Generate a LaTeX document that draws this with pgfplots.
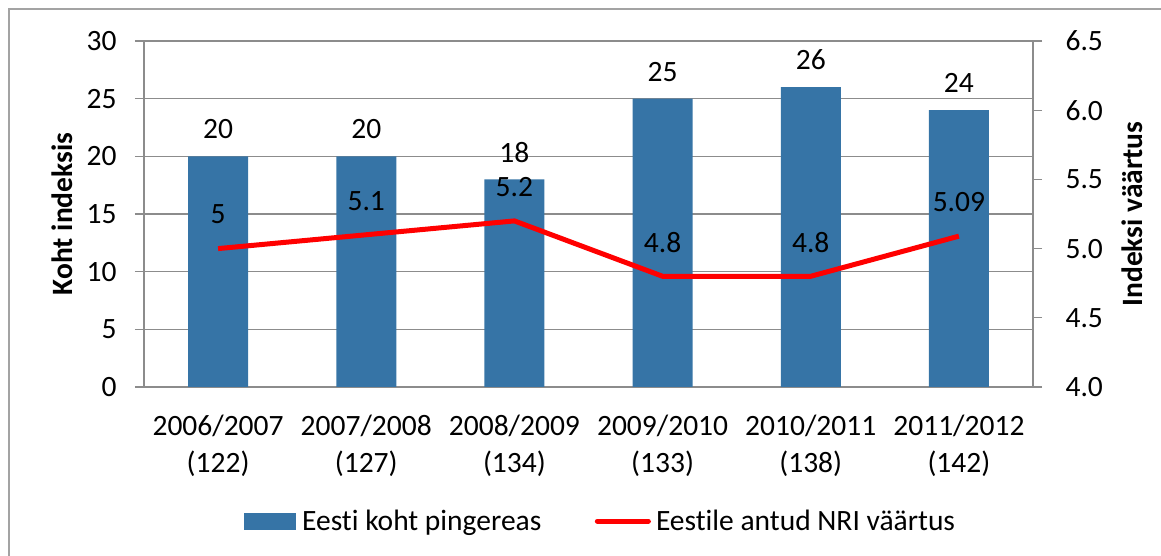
\documentclass[border=0pt]{standalone}
\usepackage{pgfplots}
\pgfplotsset{compat=1.18}
\usepackage{fontspec}
\setmainfont[Ligatures=NoCommon]{Carlito}
\definecolor{barblue}{HTML}{3674A6}
\definecolor{gridgray}{HTML}{8C8C8C}
\definecolor{linered}{HTML}{FF0000}
\newcommand{\fs}{\fontsize{29.5}{37}\selectfont}
\begin{document}
\begin{tikzpicture}[x=1pt,y=1pt]
\useasboundingbox (-144,-169) rectangle (1017,387);
\draw[gridgray!80, line width=1.3pt] (-135,-200) -- (-135,378) -- (1040,378);
\begin{axis}[
  at={(0,0)}, anchor=south west, scale only axis,
  width=889pt, height=346pt,
  xmin=-0.5, xmax=5.5, ymin=0, ymax=30,
  ytick={0,5,...,30}, ytick pos=left,
  xtick={0,...,5},
  xticklabels={{2006/2007\\(122)},{2007/2008\\(127)},{2008/2009\\(134)},{2009/2010\\(133)},{2010/2011\\(138)},{2011/2012\\(142)}},
  xtick style={draw=none},
  minor xtick={-0.5,0.5,...,5.5},
  minor x tick style={gridgray, line width=1.3pt},
  tick align=outside, major tick length=9pt, minor tick length=9pt,
  ytick style={gridgray, line width=1.3pt},
  ymajorgrids, grid style={gridgray, line width=1.3pt},
  axis line style={gridgray, line width=1.3pt},
  tick label style={font=\fs},
  xticklabel style={align=center, yshift=-15pt},
  yticklabel style={xshift=-15pt},
  /pgf/number format/assume math mode=true,
  every axis y label/.style={at={(axis description cs:-0.0922,0.5)}, anchor=center, rotate=90},
  ylabel={\fs\bfseries Koht indeksis},
  legend style={at={(axis description cs:0.1125,-0.3873)}, anchor=west, draw=none, fill=none,
    legend columns=2, font=\fs, inner sep=0pt, nodes={inner sep=0pt},
    /tikz/every odd column/.append style={column sep=3pt},
    /tikz/every even column/.append style={column sep=53.5pt}},
  legend cell align=left,
]
\addplot[ybar, bar width=60pt, fill=barblue, draw=none,
  nodes near coords, nodes near coords style={font=\fs, anchor=center, yshift=27pt},
  legend image code/.code={\fill[barblue] (0pt,-8.5pt) rectangle (52pt,8.5pt); \path (55pt,0pt);}]
  coordinates {(0,20) (1,20) (2,18) (3,25) (4,26) (5,24)};
\addlegendentry{Eesti koht pingereas}
\addlegendimage{legend image code/.code={\draw[linered, line width=5pt, line cap=round] (0pt,0pt) -- (51pt,0pt); \path (55.5pt,0pt);}}
\addlegendentry{Eestile antud NRI väärtus}
\end{axis}
\begin{axis}[
  at={(0,0)}, anchor=south west, scale only axis,
  width=889pt, height=346pt,
  xmin=-0.5, xmax=5.5, ymin=4, ymax=6.5,
  axis x line=none,
  axis y line*=right,
  ytick={4,4.5,...,6.5},
  tick align=outside, major tick length=9pt,
  ytick style={gridgray, line width=1.3pt},
  axis line style={gridgray, line width=1.3pt},
  tick label style={font=\fs},
  yticklabel style={xshift=20pt, /pgf/number format/.cd, fixed, fixed zerofill, precision=1},
  /pgf/number format/assume math mode=true,
  every axis y label/.style={at={(axis description cs:1.1114,0.5)}, anchor=center, rotate=90},
  ylabel={\fs\bfseries Indeksi väärtus},
]
\addplot[linered, line width=5pt, mark=none,
  nodes near coords, nodes near coords style={font=\fs, anchor=center, yshift=34pt, text=black}]
  coordinates {(0,5) (1,5.1) (2,5.2) (3,4.8) (4,4.8) (5,5.09)};
\end{axis}
\end{tikzpicture}
\end{document}
